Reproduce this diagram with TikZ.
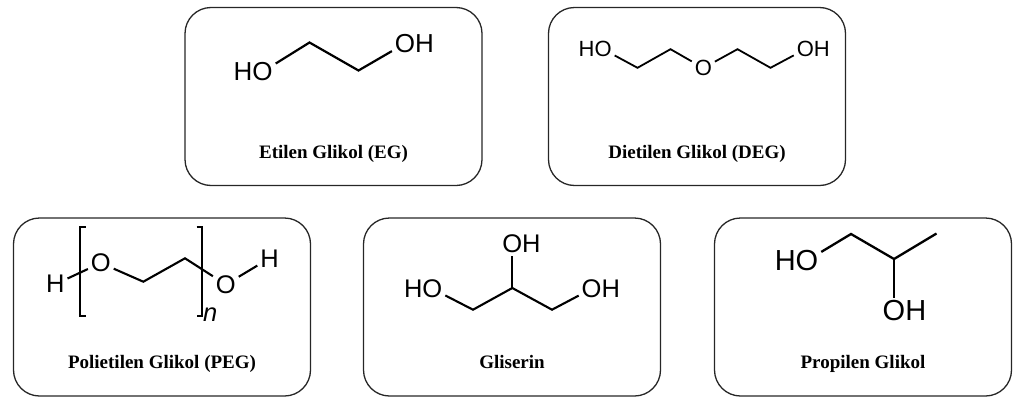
\documentclass[tikz,border=0pt]{standalone}
\usepackage{fontspec}
\setmainfont{Liberation Serif}
\setsansfont{Liberation Sans}
\usetikzlibrary{positioning}
\tikzset{
  card/.style={draw=black!85, line width=1.3pt, rounded corners=26pt, minimum width=297pt, minimum height=178pt, inner sep=0pt},
  cardname/.style={anchor=base, font=\bfseries\fontsize{19}{19}\selectfont},
  mol/.style 2 args={font=\sffamily\fontsize{#1}{#1}\selectfont, line width=#2},
  atom/.style={inner sep=0pt, outer sep=3pt},
  hyd/.style={inner sep=0pt, outer sep=0pt},
}
\begin{document}
\begin{tikzpicture}[x=1pt, y=-1pt]
\useasboundingbox (0,0) rectangle (1024,407);
% cards
\node[card] (eg) at (333.5,96.5) {};
\node[card] (deg) at (697,96.5) {};
\node[card] (peg) at (162,307) {};
\node[card] (gli) at (512,307) {};
\node[card] (pg) at (863,307) {};
\node[cardname] (egname) at ([yshift=28pt]eg.south) {Etilen Glikol (EG)};
\node[cardname] (degname) at ([yshift=28pt]deg.south) {Dietilen Glikol (DEG)};
\node[cardname] (pegname) at ([yshift=28pt]peg.south) {Polietilen Glikol (PEG)};
\node[cardname] (gliname) at ([yshift=28pt]gli.south) {Gliserin};
\node[cardname] (pgname) at ([yshift=28pt]pg.south) {Propilen Glikol};

% etilen glikol
\begin{scope}[mol={26}{2.2pt}]
\node[atom] (ego1) at (262.6,71.7) {O};
\node[hyd, left=-3pt of ego1] (egh1) {H};
\coordinate (egc1) at (309.5,42.5);
\coordinate (egc2) at (358.5,70.5);
\node[atom] (ego2) at (405,43.5) {O};
\node[hyd, right=-3pt of ego2] (egh2) {H};
\draw (ego1) -- (egc1) -- (egc2) -- (ego2);
\end{scope}

% dietilen glikol
\begin{scope}[mol={22}{1.8pt}]
\node[atom] (dego1) at (603.1,49.2) {O};
\node[hyd, left=-3pt of dego1] (degh1) {H};
\coordinate (degc1) at (637.5,67.8);
\coordinate (degc2) at (670.5,49.2);
\node[atom] (dego2) at (703.3,68) {O};
\coordinate (degc3) at (737.5,49.2);
\coordinate (degc4) at (770.5,67.8);
\node[atom] (dego3) at (805.3,49.2) {O};
\node[hyd, right=-3pt of dego3] (degh3) {H};
\draw (dego1) -- (degc1) -- (degc2) -- (dego2) -- (degc3) -- (degc4) -- (dego3);
\end{scope}

% polietilen glikol
\begin{scope}[mol={25.5}{2.1pt}]
\node[atom] (pegh1) at (55.3,284.2) {H};
\node[atom] (pego1) at (100.8,263) {O};
\coordinate (pegc1) at (143.3,281.7);
\coordinate (pegc2) at (185,258.3);
\node[atom] (pego2) at (225.8,284.5) {O};
\node[atom] (pegh2) at (269.5,258.3) {H};
\draw (pegh1) -- (pego1) -- (pegc1) -- (pegc2) -- (pego2) -- (pegh2);
\draw (85.5,227) -- (80,227) -- (80,316) -- (85.5,316);
\draw (196.5,227) -- (202,227) -- (202,316) -- (196.5,316);
\node[hyd, anchor=base west] (pegn) at (203,321.5) {\itshape n};
\end{scope}

% gliserin
\begin{scope}[mol={25.5}{2.1pt}]
\node[atom] (glio1) at (432.4,288.8) {O};
\node[hyd, left=-3pt of glio1] (glih1) {H};
\coordinate (glic1) at (473,309.7);
\coordinate (glic2) at (512.3,288);
\coordinate (glic3) at (552,309.7);
\node[atom] (glio2) at (512.3,243.8) {O};
\node[hyd, right=-3pt of glio2] (glih2) {H};
\node[atom] (glio3) at (591.6,288.8) {O};
\node[hyd, right=-3pt of glio3] (glih3) {H};
\draw (glio1) -- (glic1) -- (glic2) -- (glic3) -- (glio3);
\draw (glic2) -- (glio2);
\end{scope}

% propilen glikol
\begin{scope}[mol={29}{2.3pt}]
\node[atom] (pgo1) at (807,260.5) {O};
\node[hyd, left=-3pt of pgo1] (pgh1) {H};
\coordinate (pgc1) at (851,234);
\coordinate (pgc2) at (894,259);
\coordinate (pgc3) at (936.5,233.5);
\node[atom] (pgo2) at (894,310.8) {O};
\node[hyd, right=-3pt of pgo2] (pgh2) {H};
\draw (pgo1) -- (pgc1) -- (pgc2) -- (pgc3);
\draw (pgc2) -- (pgo2);
\end{scope}
\end{tikzpicture}
\end{document}
